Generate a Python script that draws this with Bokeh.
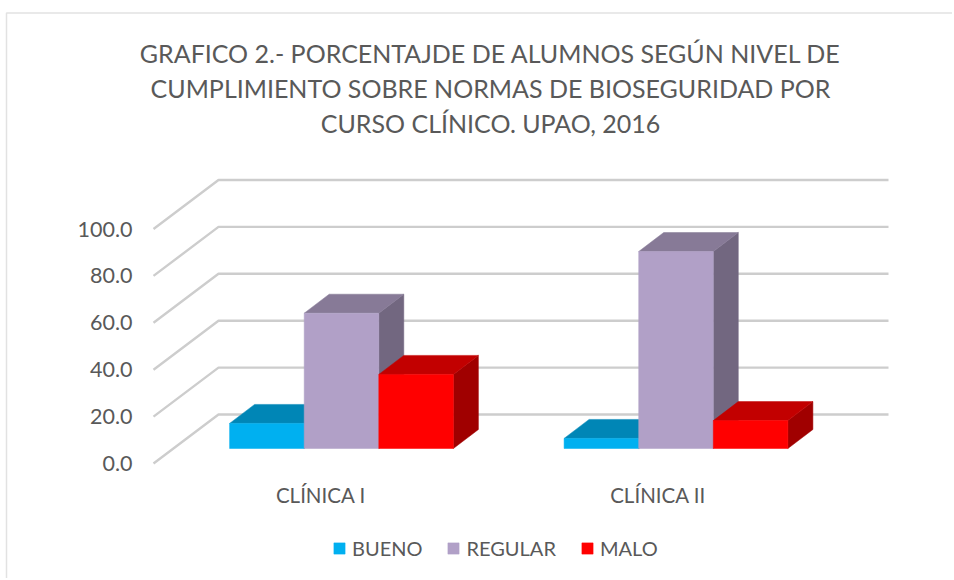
from bokeh.core.properties import value
from bokeh.embed import file_html
from bokeh.resources import INLINE
from bokeh.plotting import figure
from bokeh.models import (Range1d, FixedTicker, NumeralTickFormatter, Legend, LegendItem)

categories = ["CLÍNICA  I", "CLÍNICA II"]
series_names = ["BUENO", "REGULAR", "MALO"]
bueno = [10.7, 4.3]
regular = [57.7, 84.0]
malo = [31.6, 11.9]
y_ticks = [0, 20, 40, 60, 80, 100]
title_lines = ["GRAFICO 2.- PORCENTAJDE DE ALUMNOS SEGÚN NIVEL DE",
               "CUMPLIMIENTO SOBRE NORMAS DE BIOSEGURIDAD POR",
               "CURSO CLÍNICO. UPAO, 2016"]

FRONT = ["#00B0F0", "#B1A0C7", "#FF0000"]
TOP = ["#0086B6", "#877A97", "#C20000"]
SIDE = ["#006F98", "#726780", "#A00000"]
TXT = "#595959"
FONT = "Lato"

PX_X = 334.5   # px per category
PX_Y = 2.345   # px per percent
ORIGIN_X = 323
ZERO_Y = 463
L, R, T, B = 0, 952, 0, 578

def dx(px):
    return (px - ORIGIN_X) / PX_X

def dy(py):
    return (ZERO_Y - py) / PX_Y

p = figure(width=R - L, height=B - T, output_backend="svg", toolbar_location=None,
           x_range=Range1d(dx(L), dx(R)), y_range=Range1d(dy(B), dy(T)),
           min_border=0)
p.outline_line_color = None
p.grid.visible = False

# chart border
p.line([dx(6), dx(6), dx(R)], [dy(B), dy(12.5), dy(12.5)], line_color="#e2e2e2", line_width=1.5)

# walls
wall_dx = 65 / PX_X
wall_dy = 49 / PX_Y
for v in y_ticks:
    p.line([dx(153), dx(153) + wall_dx, dx(888)], [v, v + wall_dy, v + wall_dy],
           line_color="#cdcdcd", line_width=2.4)

# bars
bar_w = 74.6 / PX_X
bar_off = 18 / PX_X
depth_dx = 25 / PX_X
depth_dy = 19 / PX_Y
base = 15 / PX_Y
legend_items = []
for s, vals in enumerate([bueno, regular, malo]):
    fx, fy, tx, ty, sx, sy = [], [], [], [], [], []
    for i, v in enumerate(vals):
        l = i + bar_off + (s - 1.5) * bar_w
        r = l + bar_w
        t = base + v
        fx.append([l, r, r, l]); fy.append([base, base, t, t])
        tx.append([l, r, r + depth_dx, l + depth_dx]); ty.append([t, t, t + depth_dy, t + depth_dy])
        sx.append([r, r + depth_dx, r + depth_dx, r]); sy.append([base, base + depth_dy, t + depth_dy, t])
    p.patches(sx, sy, fill_color=SIDE[s], line_color=SIDE[s], line_width=0.5)
    p.patches(tx, ty, fill_color=TOP[s], line_color=TOP[s], line_width=0.5)
    front = p.patches(fx, fy, fill_color=FRONT[s], line_color=FRONT[s], line_width=0.5)
    legend_items.append(LegendItem(label=series_names[s], renderers=[front]))

# axes
xa, ya = p.xaxis[0], p.yaxis[0]
xa.fixed_location = dy(470)
ya.fixed_location = dx(153)
xa.ticker = FixedTicker(ticks=list(range(len(categories))))
xa.major_label_overrides = {i: c for i, c in enumerate(categories)}
xa.major_label_standoff = 6
ya.ticker = FixedTicker(ticks=y_ticks)
ya.formatter = NumeralTickFormatter(format="0.0")
ya.major_label_standoff = 15
for a, size in ((xa, "20.5px"), (ya, "21.5px")):
    a.axis_line_color = None
    a.major_tick_line_color = None
    a.minor_tick_line_color = None
    a.major_label_text_color = TXT
    a.major_label_text_font = FONT
    a.major_label_text_font_size = size

# title
p.text([dx(490)] * 3, [dy(52), dy(87), dy(122)], text=title_lines, text_align="center",
       text_baseline="middle", text_color=TXT, text_font=value(FONT), text_font_size="25px")

# legend
legend = Legend(items=legend_items, orientation="horizontal", location=(332 - L, B - 560),
                glyph_width=14, glyph_height=14, label_standoff=6, spacing=24, padding=0, margin=0,
                background_fill_alpha=0, border_line_color=None,
                label_text_color=TXT, label_text_font=FONT, label_text_font_size="20px")
p.add_layout(legend, "center")

open("out.html", "w").write(file_html(p, INLINE))
